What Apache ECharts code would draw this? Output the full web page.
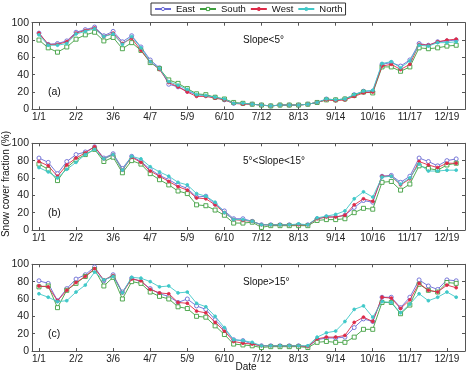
<!DOCTYPE html>
<html>
<head>
<meta charset="utf-8">
<script src="https://cdn.jsdelivr.net/npm/echarts@6/dist/echarts.min.js"></script>
<style>html,body{margin:0;padding:0;background:#fff}#c{width:473px;height:372px}</style>
</head>
<body>
<div id="c"></div>
<script>
// Tick labels (dates, every 4th 8-day composite) and their composite indices
const tickLabels = ["1/1","2/2","3/6","4/7","5/9","6/10","7/12","8/13","9/14","10/16","11/17","12/19"];
const tickIndex = [0,4,8,12,16,20,24,28,32,36,40,44];
const seriesNames = ["East","South","West","North"];

// Panel (a) Slope<5°
const aEast  = [88,75,76,79,89,92,95,85,90,78,85,72,57,48,29,26,21,17,16,14,11,7,7,6,5,4,5,5,5,6,8,12,11,12,17,21,21,52,54,50,57,76,74,78,79,80];
const aSouth = [80,71,66,72,81,86,89,79,83,70,77,68,54,47,34,30,24,18,17,14,12,8,7,6,5,4,5,5,5,6,8,11,11,12,16,20,19,49,49,44,49,71,70,71,73,74];
const aWest  = [88,75,75,78,88,91,94,84,88,76,82,68,55,46,31,26,20,15,15,13,11,7,6,6,5,4,5,5,5,6,8,11,10,11,15,19,20,50,52,46,52,75,74,78,80,81];
const aNorth = [86,74,74,76,87,90,93,84,87,75,84,71,55,47,32,28,23,17,16,14,12,7,7,6,5,4,5,5,5,6,8,12,11,12,17,21,22,53,55,48,56,74,73,77,77,78];

// Panel (b) 5°<Slope<15°
const bEast  = [83,78,65,79,87,90,96,83,88,71,85,79,70,63,58,52,48,38,39,30,22,13,13,10,6,6,6,6,6,6,13,15,15,17,26,34,32,62,63,55,62,83,79,74,80,82];
const bSouth = [76,70,57,72,81,87,93,79,84,66,80,76,65,58,52,45,42,29,28,23,17,8,8,9,3,5,5,5,5,5,11,12,12,13,20,25,24,55,56,46,53,74,71,69,75,77];
const bWest  = [79,74,62,75,83,89,96,82,87,69,84,78,68,62,56,50,46,37,36,29,20,12,11,10,6,6,6,6,6,6,13,15,15,17,29,36,33,62,62,52,59,79,75,72,77,77];
const bNorth = [72,67,60,70,78,87,93,82,87,69,85,82,73,67,62,55,52,42,39,32,20,12,12,10,6,6,6,6,7,6,14,16,18,22,36,44,38,61,62,53,60,76,68,68,69,69];

// Panel (c) Slope>15°
const cEast  = [81,78,58,72,83,88,97,81,88,68,84,80,72,66,63,56,60,52,48,36,25,13,12,8,6,6,6,6,6,5,13,15,15,16,27,37,34,62,62,50,62,82,75,71,82,81];
const cSouth = [74,75,50,70,78,86,94,75,85,60,80,78,68,63,60,51,49,40,39,29,19,8,7,6,4,5,5,5,5,4,10,11,10,10,16,25,25,56,56,43,53,77,70,68,79,78];
const cWest  = [75,74,58,70,79,86,95,82,87,67,83,81,71,67,66,56,55,46,44,33,23,11,9,8,6,6,6,6,6,5,14,16,16,18,33,39,34,62,61,49,59,78,70,68,76,73];
const cNorth = [66,62,57,58,68,76,91,82,86,67,85,84,80,74,75,67,68,55,51,40,27,13,12,10,6,6,6,6,6,6,16,21,23,34,48,52,39,57,56,44,54,66,58,62,68,62];

const panels = [
  {data:[aEast,aSouth,aWest,aNorth], title:"Slope<5°", tag:"(a)", top:22.7},
  {data:[bEast,bSouth,bWest,bNorth], title:"5°<Slope<15°", tag:"(b)", top:143.3},
  {data:[cEast,cSouth,cWest,cNorth], title:"Slope>15°", tag:"(c)", top:264.3}
];
const H = 86.7;
const colors = ["#6a6ad4","#3f9f3f","#de2a48","#40c8c8"];
const symbols = ["circle","rect","circle","circle"];
const symSizes = [4,4,2.8,2.8];
const fills = ["#ffffff","#ffffff",null,null];
const FONT = "'Liberation Sans',Arial,sans-serif";
const axisCol = "#555";

const grid=[], xAxis=[], yAxis=[], series=[], graphic=[];
panels.forEach((p,k)=>{
  grid.push({left:32, right:8, top:p.top, height:H, show:false});
  const xBase = {
    type:'value', gridIndex:k, min:-0.75, max:45.95,
    splitLine:{show:false},
    axisLine:{show:true, onZero:false, lineStyle:{color:axisCol,width:1}},
    axisTick:{show:true, inside:true, length:3, customValues:tickIndex, lineStyle:{color:axisCol}},
  };
  xAxis.push(Object.assign({}, xBase, {position:'bottom',
    axisLabel:{show:true, customValues:tickIndex, margin:3, fontSize:10, fontFamily:FONT, color:'#222',
      formatter:(v)=>{const i=tickIndex.indexOf(Math.round(v)); return i>=0?tickLabels[i]:'';}}}));
  xAxis.push(Object.assign({}, xBase, {position:'top', axisLabel:{show:false}}));
  const yBase = {
    type:'value', gridIndex:k, min:0, max:100, interval:20,
    splitLine:{show:false},
    axisLine:{show:true, onZero:false, lineStyle:{color:axisCol,width:1}},
    axisTick:{show:true, inside:true, length:3, lineStyle:{color:axisCol}},
  };
  yAxis.push(Object.assign({}, yBase, {position:'left',
    axisLabel:{show:true, margin:3, fontSize:10.5, fontFamily:FONT, color:'#222'}}));
  yAxis.push(Object.assign({}, yBase, {position:'right', axisLabel:{show:false}}));
  p.data.forEach((arr,s)=>{
    series.push({
      type:'line', name:seriesNames[s], xAxisIndex:2*k, yAxisIndex:2*k,
      data:arr.map((v,i)=>[i,v]),
      symbol:symbols[s], symbolSize:symSizes[s], showSymbol:true,
      lineStyle:{color:colors[s], width:0.9},
      itemStyle:{color:fills[s]||colors[s], borderColor:colors[s], borderWidth:0.9},
      animation:false, z:2+s
    });
  });
  graphic.push({type:'text', left:243, top:p.top+13, style:{text:p.title, font:"10px "+FONT, fill:'#111'}});
  graphic.push({type:'text', left:48, top:p.top+64, style:{text:p.tag, font:"10.5px "+FONT, fill:'#111'}});
});
graphic.push({type:'text', x:6, y:184, rotation:Math.PI/2,
  style:{text:"Snow cover fraction (%)", font:"10px "+FONT, fill:'#111', align:'center', verticalAlign:'middle'}});
graphic.push({type:'text', x:246, y:367.5,
  style:{text:"Date", font:"10px "+FONT, fill:'#111', align:'center', verticalAlign:'middle'}});

const legendData = seriesNames.map((n,s)=>({
  name:n,
  itemStyle:{color:fills[s]||colors[s], borderColor:colors[s], borderWidth:1}
}));

const chart = echarts.init(document.getElementById('c'), null, {renderer:'canvas'});
chart.setOption({
  animation:false,
  backgroundColor:'#fff',
  grid, xAxis, yAxis, series, graphic,
  legend:{
    data:legendData, left:151, top:3, padding:[1,3], itemGap:4, itemWidth:16, itemHeight:4,
    borderColor:'#333', borderWidth:1, backgroundColor:'#fff',
    textStyle:{fontSize:9.5, fontFamily:FONT, color:'#111'}
  }
});
</script>
</body>
</html>
